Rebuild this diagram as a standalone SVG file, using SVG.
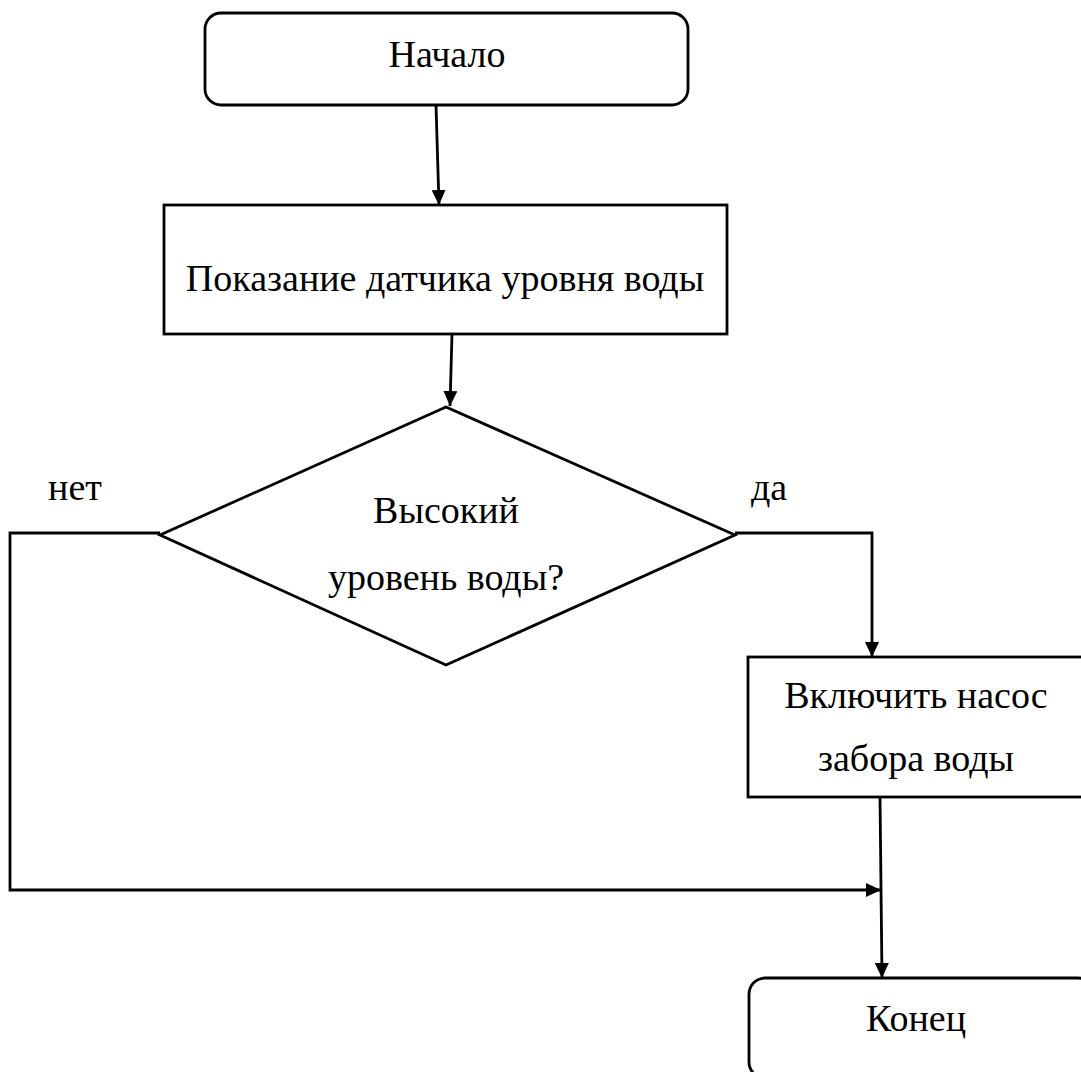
<svg xmlns="http://www.w3.org/2000/svg" width="1081" height="1072" viewBox="0 0 1081 1072">
<style>
.n{fill:#fff;stroke:#000;stroke-width:2.8}
.t{font-family:"Liberation Serif","Times New Roman",serif;font-size:38px;fill:#000;text-anchor:middle}
.c{fill:none;stroke:#000;stroke-width:2.8}
</style>
<defs>
<marker id="ah" viewBox="0 0 15 14" refX="15" refY="7" markerWidth="15" markerHeight="14" markerUnits="userSpaceOnUse" orient="auto">
<path d="M0,0 L15,7 L0,14 Z" fill="#000"/>
</marker>
</defs>
<rect width="1081" height="1072" fill="#fff"/>
<g id="connectors">
<line class="c" x1="436" y1="105" x2="439" y2="205" marker-end="url(#ah)"/>
<line class="c" x1="452" y1="334" x2="450" y2="406" marker-end="url(#ah)"/>
<polyline class="c" points="160,533 10,533 10,890 881,890" marker-end="url(#ah)"/>
<polyline class="c" points="735,533 872,533 872,657" marker-end="url(#ah)"/>
<line class="c" x1="880" y1="797" x2="882" y2="978" marker-end="url(#ah)"/>
</g>
<g id="start">
<rect class="n" x="205" y="13" width="483" height="92" rx="16"/>
<text class="t" x="447" y="67">Начало</text>
</g>
<g id="sensor">
<rect class="n" x="164" y="205" width="563" height="129"/>
<text class="t" x="445" y="291">Показание датчика уровня воды</text>
</g>
<g id="decision">
<polygon class="n" points="446,407 735,535 446,665 160,535"/>
<text class="t" x="446" y="523">Высокий</text>
<text class="t" x="446" y="590">уровень воды?</text>
</g>
<g id="labels">
<text class="t" x="75" y="500">нет</text>
<text class="t" x="769" y="500">да</text>
</g>
<g id="pump">
<rect class="n" x="748" y="657" width="345" height="140"/>
<text class="t" x="916" y="708">Включить насос</text>
<text class="t" x="916" y="771">забора воды</text>
</g>
<g id="end">
<rect class="n" x="749" y="978" width="345" height="100" rx="16"/>
<text class="t" x="916" y="1031">Конец</text>
</g>
</svg>
